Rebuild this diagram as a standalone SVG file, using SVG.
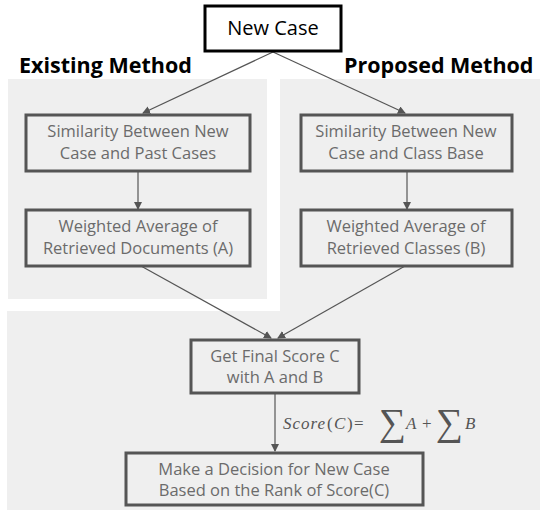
<svg xmlns="http://www.w3.org/2000/svg" width="540" height="510" viewBox="0 0 540 510">
<style>
.panel{fill:#efefef}
.box{fill:#efefef;stroke:#555555;stroke-width:3}
.txt{font-family:"Open Sans","Noto Sans",sans-serif;font-size:16.5px;fill:#6b6b6b;text-anchor:middle}
.hdr{font-family:"Open Sans","Noto Sans",sans-serif;font-size:21.5px;font-weight:bold;fill:#000}
.con{stroke:#555555;stroke-width:1.2;fill:none;marker-end:url(#arr)}
.math{font-family:"Liberation Serif","DejaVu Serif",serif;fill:#555555;font-size:17px}
.it{font-style:italic}
.sig{font-size:38px}
</style>
<defs>
<marker id="arr" markerWidth="8" markerHeight="8" refX="7" refY="4" orient="auto" markerUnits="userSpaceOnUse">
<path d="M0,0 L8,4 L0,8 Z" fill="#555555"/>
</marker>
</defs>
<rect width="540" height="510" fill="#ffffff"/>
<g id="panels">
<rect class="panel" x="8" y="79" width="259" height="220"/>
<rect class="panel" x="280" y="79" width="260" height="240"/>
<rect class="panel" x="7" y="311" width="533" height="199"/>
</g>
<text class="hdr" x="19" y="73">Existing Method</text>
<text class="hdr" x="344" y="73">Proposed Method</text>
<g id="connectors">
<line class="con" x1="273" y1="52" x2="143" y2="113"/>
<line class="con" x1="273" y1="52" x2="405" y2="113"/>
<line class="con" x1="138" y1="172" x2="138" y2="209"/>
<line class="con" x1="407" y1="172" x2="407" y2="209"/>
<line class="con" x1="141" y1="266" x2="271" y2="338"/>
<line class="con" x1="405" y1="266" x2="278" y2="338"/>
<line class="con" x1="275" y1="394" x2="275" y2="451"/>
</g>
<g id="new-case">
<rect x="205" y="6" width="136" height="45" fill="#ffffff" stroke="#000000" stroke-width="3"/>
<text x="273" y="35" font-family="'Open Sans','Noto Sans',sans-serif" font-size="20" fill="#000" text-anchor="middle">New Case</text>
</g>
<g id="sim-past">
<rect class="box" x="26" y="115" width="224" height="56"/>
<text class="txt" x="138" y="137">Similarity Between New</text>
<text class="txt" x="138" y="159">Case and Past Cases</text>
</g>
<g id="sim-class">
<rect class="box" x="301" y="115" width="211" height="56"/>
<text class="txt" x="406" y="137">Similarity Between New</text>
<text class="txt" x="406" y="159">Case and Class Base</text>
</g>
<g id="wavg-docs">
<rect class="box" x="26" y="210" width="224" height="56"/>
<text class="txt" x="138" y="232">Weighted Average of</text>
<text class="txt" x="138" y="254">Retrieved Documents (A)</text>
</g>
<g id="wavg-classes">
<rect class="box" x="301" y="210" width="211" height="56"/>
<text class="txt" x="406" y="232">Weighted Average of</text>
<text class="txt" x="406" y="254">Retrieved Classes (B)</text>
</g>
<g id="final-score">
<rect class="box" x="191" y="340" width="168" height="53"/>
<text class="txt" x="275" y="362">Get Final Score C</text>
<text class="txt" x="275" y="383">with A and B</text>
</g>
<g id="decision">
<rect class="box" x="126" y="453" width="297" height="52"/>
<text class="txt" x="274" y="475">Make a Decision for New Case</text>
<text class="txt" x="274" y="496">Based on the Rank of Score(C)</text>
</g>
<text class="math" y="429"><tspan class="it" x="283" letter-spacing="1">Score</tspan><tspan x="327">(</tspan><tspan class="it" x="334">C</tspan><tspan x="347">)</tspan><tspan x="354">=</tspan><tspan class="sig" x="379" dy="6">∑</tspan><tspan class="it" x="406" dy="-6">A</tspan><tspan x="422">+</tspan><tspan class="sig" x="436" dy="6">∑</tspan><tspan class="it" x="465" dy="-6">B</tspan></text>
</svg>
